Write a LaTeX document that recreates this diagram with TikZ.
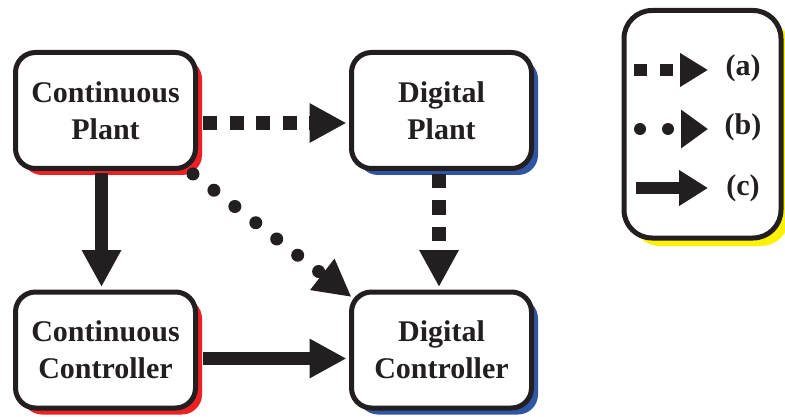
\documentclass[tikz,border=0pt]{standalone}
\usepackage{fontspec}
\setmainfont{Liberation Serif}
\usetikzlibrary{arrows.meta,calc,shadows}
\definecolor{ink}{HTML}{231F20}
\definecolor{shred}{HTML}{ED2024}
\definecolor{shblue}{HTML}{2F55A4}
\definecolor{shyellow}{HTML}{FFF200}
\begin{document}
\begin{tikzpicture}[x=1pt,y=-1pt,
  block/.style={draw=ink, line width=5pt, fill=white, rounded corners=20pt,
    minimum width=180pt, minimum height=116pt, inner sep=0pt, align=center,
    font=\fontsize{30}{37}\selectfont\bfseries, text=ink},
  redshade/.style={drop shadow={shadow xshift=6.5pt, shadow yshift=-6.5pt, fill=shred, opacity=1}},
  blueshade/.style={drop shadow={shadow xshift=6.5pt, shadow yshift=-6.5pt, fill=shblue, opacity=1}},
  yellowshade/.style={drop shadow={shadow xshift=8pt, shadow yshift=-8pt, fill=shyellow, opacity=1}},
  legendbox/.style={draw=ink, line width=5pt, fill=white, rounded corners=28pt,
    minimum width=157pt, minimum height=227.5pt, inner sep=0pt},
  legendlabel/.style={font=\fontsize{30}{36}\selectfont\bfseries, text=ink, inner sep=0pt},
  bighead/.style={-{Triangle[length=37pt,width=37pt]}},
  squareline/.style={draw=ink, line width=13.5pt, dash pattern=on 14pt off 12.5pt, bighead},
  dotline/.style={draw=ink, line width=13pt, line cap=round, dash pattern=on 0pt off 26.5pt, bighead},
  solidline/.style={draw=ink, line width=13.5pt, bighead}
]
\useasboundingbox (0,0) rectangle (785,417);

% the four blocks
\node[block, redshade]  (cp) at (105.5,110.5) {Continuous\\Plant};
\node[block, blueshade] (dp) at (441.5,110.5) {Digital\\Plant};
\node[block, redshade]  (cc) at (105.5,350)   {Continuous\\Controller};
\node[block, blueshade] (dc) at (441.5,350)   {Digital\\Controller};

% connectors
\draw[squareline, shorten <=5pt, shorten >=2.5pt]
  ($(cp.east)+(0,12.5)$) -- ($(dp.west)+(0,12.5)$);
\draw[squareline, shorten <=3pt, shorten >=2.5pt]
  ($(dp.south)+(-2.5,0)$) -- ($(dc.north)+(-2.5,0)$);
\draw[dotline]
  ($(cp.south east)+(-5,3)$) -- ($(dc.north west)+(2.5,7.5)$);
\draw[solidline, shorten <=2pt, shorten >=2.5pt]
  ($(cp.south)+(-4,0)$) -- ($(cc.north)+(-4,0)$);
\draw[solidline, shorten <=5pt, shorten >=2.5pt]
  ($(cc.east)+(0,8.5)$) -- ($(dc.west)+(0,8.5)$);

% legend
\node[legendbox, yellowshade] (leg) at (702.5,124.25) {};
\coordinate (a1) at (634,70);  \coordinate (a2) at (708,70);
\coordinate (b1) at (640,129); \coordinate (b2) at (708,129);
\coordinate (c1) at (636,188); \coordinate (c2) at (708,188);
\draw[ink, line width=12pt, dash pattern=on 13pt off 13pt,
  -{Triangle[length=28pt,width=32pt]}] (a1) -- (a2);
\draw[ink, line width=12pt, line cap=round, dash pattern=on 0pt off 28pt,
  -{Triangle[length=27pt,width=37pt]}] (b1) -- (b2);
\draw[ink, line width=12pt, -{Triangle[length=29pt,width=34pt]}] (c1) -- (c2);
\node[legendlabel] (la) at (743,68)  {(a)};
\node[legendlabel] (lb) at (743,127) {(b)};
\node[legendlabel] (lc) at (743,188) {(c)};
\end{tikzpicture}
\end{document}
